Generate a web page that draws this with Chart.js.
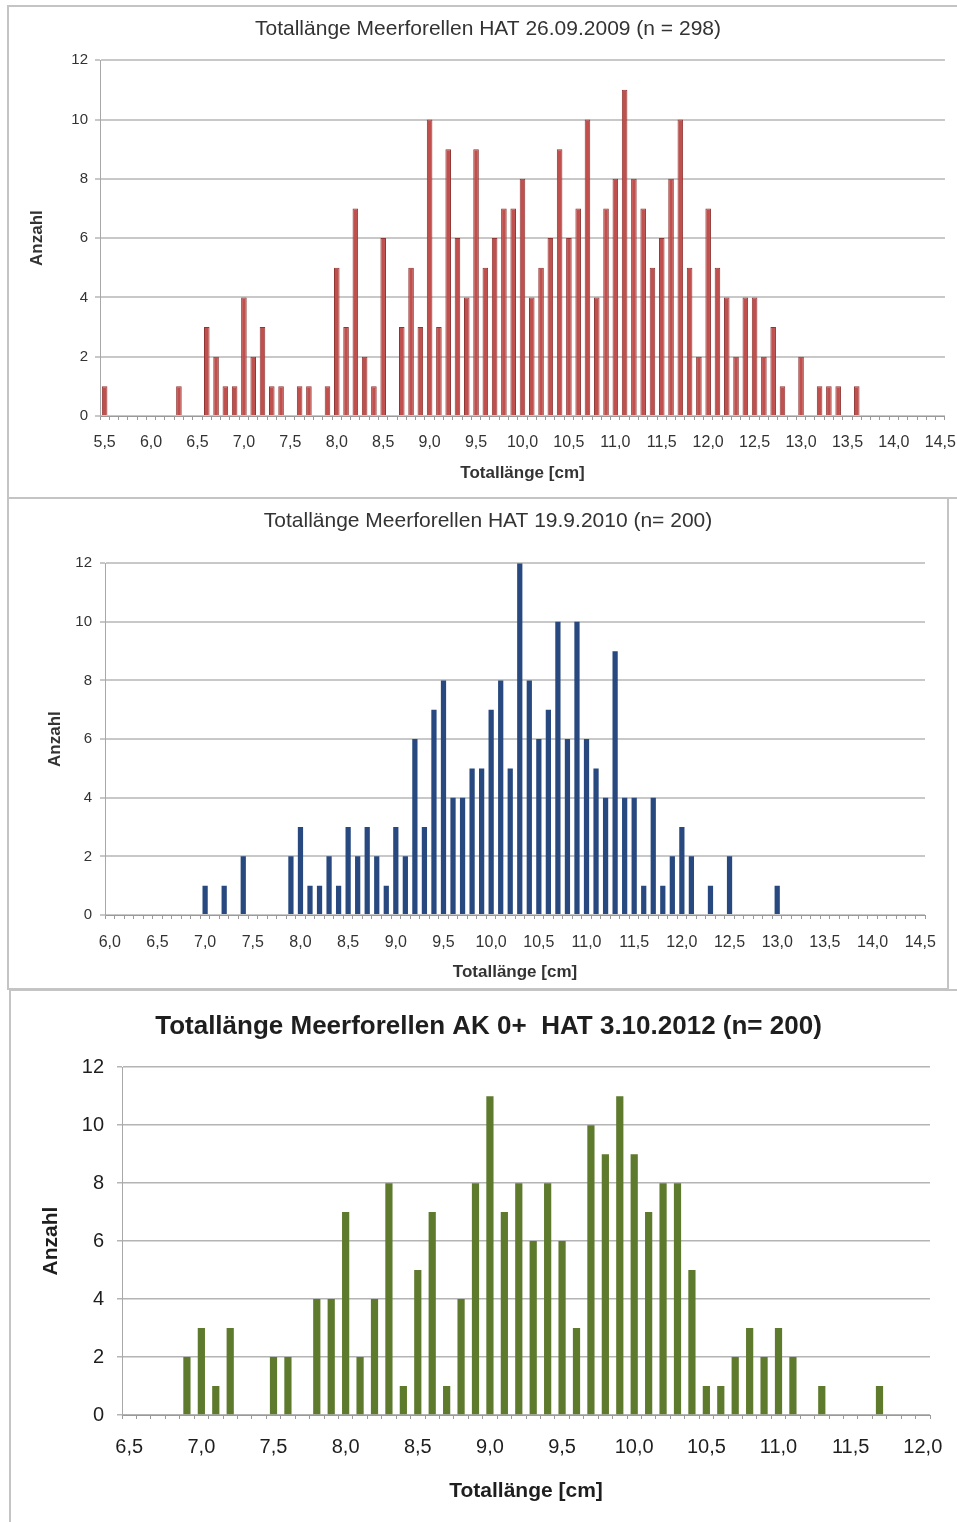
<!DOCTYPE html>
<html>
<head>
<meta charset="utf-8">
<script src="https://cdn.jsdelivr.net/npm/chart.js@4.4.1/dist/chart.umd.min.js"></script>
<style>
  html, body { margin: 0; padding: 0; background: #fff; overflow: hidden; width: 957px; height: 1522px; }
  .panel { position: absolute; border: 2px solid #c4c4c4; box-sizing: border-box; }
  canvas { position: absolute; }
</style>
</head>
<body>
<div class="panel" style="left:7px;top:5px;width:1000px;height:494px"></div>
<div class="panel" style="left:7px;top:497px;width:942px;height:493px"></div>
<div class="panel" style="left:9px;top:989px;width:1000px;height:600px"></div>
<canvas id="chart2009" width="960" height="490" style="left:9px;top:7px"></canvas>
<canvas id="chart2010" width="980" height="488" style="left:9px;top:499px"></canvas>
<canvas id="chart2012" width="980" height="531" style="left:11px;top:991px"></canvas>
<script>
// Totallänge classes (cm) and counts per class
const cm2009 = [5.5, 5.6, 5.7, 5.8, 5.9, 6.0, 6.1, 6.2, 6.3, 6.4,
  6.5, 6.6, 6.7, 6.8, 6.9, 7.0, 7.1, 7.2, 7.3, 7.4,
  7.5, 7.6, 7.7, 7.8, 7.9, 8.0, 8.1, 8.2, 8.3, 8.4,
  8.5, 8.6, 8.7, 8.8, 8.9, 9.0, 9.1, 9.2, 9.3, 9.4,
  9.5, 9.6, 9.7, 9.8, 9.9, 10.0, 10.1, 10.2, 10.3, 10.4,
  10.5, 10.6, 10.7, 10.8, 10.9, 11.0, 11.1, 11.2, 11.3, 11.4,
  11.5, 11.6, 11.7, 11.8, 11.9, 12.0, 12.1, 12.2, 12.3, 12.4,
  12.5, 12.6, 12.7, 12.8, 12.9, 13.0, 13.1, 13.2, 13.3, 13.4,
  13.5, 13.6, 13.7, 13.8, 13.9, 14.0, 14.1, 14.2, 14.3, 14.4, 14.5];
const count2009 = [1, 0, 0, 0, 0, 0, 0, 0, 1, 0,
  0, 3, 2, 1, 1, 4, 2, 3, 1, 1,
  0, 1, 1, 0, 1, 5, 3, 7, 2, 1,
  6, 0, 3, 5, 3, 10, 3, 9, 6, 4,
  9, 5, 6, 7, 7, 8, 4, 5, 6, 9,
  6, 7, 10, 4, 7, 8, 11, 8, 7, 5,
  6, 8, 10, 5, 2, 7, 5, 4, 2, 4,
  4, 2, 3, 1, 0, 2, 0, 1, 1, 1,
  0, 1, 0, 0, 0, 0, 0, 0, 0, 0, 0];

const cm2010 = [6.0, 6.1, 6.2, 6.3, 6.4, 6.5, 6.6, 6.7, 6.8, 6.9,
  7.0, 7.1, 7.2, 7.3, 7.4, 7.5, 7.6, 7.7, 7.8, 7.9,
  8.0, 8.1, 8.2, 8.3, 8.4, 8.5, 8.6, 8.7, 8.8, 8.9,
  9.0, 9.1, 9.2, 9.3, 9.4, 9.5, 9.6, 9.7, 9.8, 9.9,
  10.0, 10.1, 10.2, 10.3, 10.4, 10.5, 10.6, 10.7, 10.8, 10.9,
  11.0, 11.1, 11.2, 11.3, 11.4, 11.5, 11.6, 11.7, 11.8, 11.9,
  12.0, 12.1, 12.2, 12.3, 12.4, 12.5, 12.6, 12.7, 12.8, 12.9,
  13.0, 13.1, 13.2, 13.3, 13.4, 13.5, 13.6, 13.7, 13.8, 13.9,
  14.0, 14.1, 14.2, 14.3, 14.4, 14.5];
const count2010 = [0, 0, 0, 0, 0, 0, 0, 0, 0, 0,
  1, 0, 1, 0, 2, 0, 0, 0, 0, 2,
  3, 1, 1, 2, 1, 3, 2, 3, 2, 1,
  3, 2, 6, 3, 7, 8, 4, 4, 5, 5,
  7, 8, 5, 12, 8, 6, 7, 10, 6, 10,
  6, 5, 4, 9, 4, 4, 1, 4, 1, 2,
  3, 2, 0, 1, 0, 2, 0, 0, 0, 0,
  1, 0, 0, 0, 0, 0, 0, 0, 0, 0,
  0, 0, 0, 0, 0, 0];

const cm2012 = [6.5, 6.6, 6.7, 6.8, 6.9, 7.0, 7.1, 7.2, 7.3, 7.4,
  7.5, 7.6, 7.7, 7.8, 7.9, 8.0, 8.1, 8.2, 8.3, 8.4,
  8.5, 8.6, 8.7, 8.8, 8.9, 9.0, 9.1, 9.2, 9.3, 9.4,
  9.5, 9.6, 9.7, 9.8, 9.9, 10.0, 10.1, 10.2, 10.3, 10.4,
  10.5, 10.6, 10.7, 10.8, 10.9, 11.0, 11.1, 11.2, 11.3, 11.4,
  11.5, 11.6, 11.7, 11.8, 11.9, 12.0];
const count2012 = [0, 0, 0, 0, 2, 3, 1, 3, 0, 0,
  2, 2, 0, 4, 4, 7, 2, 4, 8, 1,
  5, 7, 1, 4, 8, 11, 7, 8, 6, 8,
  6, 3, 10, 9, 11, 9, 7, 8, 8, 5,
  1, 1, 2, 3, 2, 3, 2, 0, 1, 0,
  0, 0, 1, 0, 0, 0];

const yTicks = [0, 2, 4, 6, 8, 10, 12];

const cmLabel = v => v.toFixed(1).replace('.', ',');

function drawHistogram(id, title, classes, counts, fill, edge, look) {
  const txt = look.text;
  new Chart(document.getElementById(id), {
    type: 'bar',
    data: {
      labels: classes.map(cmLabel),
      datasets: [{
        data: counts,
        backgroundColor: fill,
        borderColor: edge,
        borderWidth: look.barEdge,
        barPercentage: look.bar,
        categoryPercentage: 1
      }]
    },
    options: {
      responsive: false,
      animation: false,
      layout: { padding: { right: look.padRight, left: 0, top: 0, bottom: 0 } },
      plugins: {
        legend: { display: false },
        tooltip: { enabled: false },
        title: {
          display: true,
          text: title,
          color: txt,
          font: { family: 'Liberation Sans', size: look.titleSize, weight: look.titleWeight },
          padding: look.titlePad
        }
      },
      scales: {
        x: {
          offset: true,
          grid: { offset: true, drawOnChartArea: false, tickLength: 4, color: '#9a9a9a' },
          border: { color: '#9a9a9a', width: 1 },
          ticks: {
            autoSkip: false, maxRotation: 0, minRotation: 0,
            padding: look.xPad, color: txt,
            font: { family: 'Liberation Sans', size: look.tickSize },
            callback: function (v, i) { return i % 5 === 0 ? this.getLabelForValue(v) : ''; }
          },
          title: {
            display: true, text: 'Totallänge [cm]', color: txt,
            font: { family: 'Liberation Sans', size: look.axisSize, weight: 'bold' },
            padding: { top: 0, bottom: look.xTitlePad }
          },
          afterFit: s => { s.height = look.xHeight; }
        },
        y: {
          min: 0, max: 12,
          afterBuildTicks: s => { s.ticks = yTicks.map(v => ({ value: v })); },
          grid: { color: look.gridColor, lineWidth: look.gridWidth, tickLength: 5 },
          border: { color: '#a8a8a8', width: 1 },
          ticks: {
            padding: look.yPad, color: txt,
            font: { family: 'Liberation Sans', size: look.yTickSize }
          },
          title: {
            display: true, text: 'Anzahl', color: txt,
            font: { family: 'Liberation Sans', size: look.axisSize, weight: 'bold' },
            padding: { top: look.yTitlePad, bottom: 0 }
          },
          afterFit: s => { s.width = look.yWidth; }
        },
        // empty strip on the right so the chart title sits where the original has it
        spacer: {
          type: 'linear', position: 'right', display: true,
          grid: { display: false }, border: { display: false },
          ticks: { display: false },
          afterFit: s => { s.width = look.spacer; }
        }
      }
    }
  });
}

drawHistogram('chart2009', 'Totallänge Meerforellen HAT 26.09.2009 (n = 298)', cm2009, count2009,
  '#c0504d', '#8f3533', {
    text: '#333', bar: 0.6, barEdge: 1, padRight: 2, spacer: 20,
    titleSize: 21, titleWeight: 'normal', titlePad: { top: 10, bottom: 18 },
    tickSize: 16, yTickSize: 15, axisSize: 17,
    xPad: 13, xTitlePad: 13, xHeight: 81,
    yPad: 7, yTitlePad: 18, yWidth: 91,
    gridColor: '#c8c8c8', gridWidth: 2
  });

drawHistogram('chart2010', 'Totallänge Meerforellen HAT 19.9.2010 (n= 200)', cm2010, count2010,
  '#28497f', '#1d365f', {
    text: '#333', bar: 0.55, barEdge: 0, padRight: 22, spacer: 42,
    titleSize: 21, titleWeight: 'normal', titlePad: { top: 10, bottom: 29 },
    tickSize: 16, yTickSize: 15, axisSize: 17,
    xPad: 14, xTitlePad: 4, xHeight: 72,
    yPad: 8, yTitlePad: 36, yWidth: 96,
    gridColor: '#c8c8c8', gridWidth: 2
  });

drawHistogram('chart2012', 'Totallänge Meerforellen AK 0+  HAT 3.10.2012 (n= 200)', cm2012, count2012,
  '#5e7a2c', '#4b6023', {
    text: '#1e1e1e', bar: 0.5, barEdge: 0, padRight: 25, spacer: 36,
    titleSize: 26, titleWeight: 'bold', titlePad: { top: 20, bottom: 25 },
    tickSize: 20, yTickSize: 20, axisSize: 21,
    xPad: 16, xTitlePad: 18, xHeight: 107,
    yPad: 13, yTitlePad: 28, yWidth: 111,
    gridColor: '#b4b4b4', gridWidth: 1.5
  });
</script>
</body>
</html>
